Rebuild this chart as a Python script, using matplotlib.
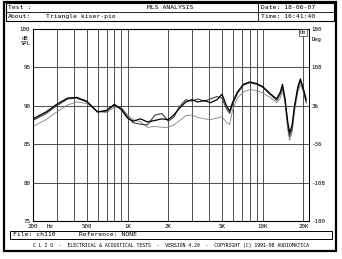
import matplotlib
matplotlib.use('Agg')
import matplotlib.pyplot as plt
from matplotlib.patches import Rectangle
from matplotlib.lines import Line2D

# ---------------- data ----------------
freq = [200, 250, 300, 360, 420, 500, 600, 700, 800, 900, 1000, 1100, 1250, 1400,
        1600, 1800, 2000, 2200, 2400, 2700, 3000, 3300, 3700, 4100, 4600, 5000,
        5400, 5700, 6000, 6500, 7200, 8000, 9000, 10000, 11500, 12700, 13500,
        14000, 14600, 15300, 15800, 16500, 17200, 18200, 19000, 19800, 21000]

curve_a = [88.3, 89.2, 90.2, 91.0, 91.1, 90.6, 89.2, 89.4, 90.2, 89.5, 88.4, 88.0,
           88.3, 87.9, 88.1, 88.3, 88.2, 88.8, 89.6, 90.5, 90.8, 90.5, 90.7, 90.4,
           90.8, 91.5, 90.0, 89.3, 90.5, 91.8, 92.8, 93.1, 92.9, 92.5, 91.5, 90.9,
           91.8, 92.8, 91.0, 88.0, 86.5, 87.5, 90.0, 92.5, 93.5, 92.5, 90.8]

curve_b = [88.1, 89.0, 90.0, 90.9, 91.0, 90.5, 89.2, 89.3, 90.1, 89.7, 88.6, 87.8,
           87.6, 87.5, 88.8, 89.0, 88.0, 88.5, 89.8, 90.8, 90.6, 90.9, 90.6, 90.9,
           91.2, 91.0, 89.6, 89.0, 90.2, 91.6, 92.7, 93.0, 92.8, 92.4, 91.4, 90.7,
           91.5, 92.5, 90.8, 87.5, 86.0, 87.0, 89.8, 92.2, 93.2, 92.3, 90.5]

curve_c = [87.3, 88.2, 89.2, 90.1, 90.5, 90.3, 89.3, 89.1, 89.8, 89.8, 88.8, 88.2,
           87.9, 87.2, 87.3, 87.2, 87.2, 87.5, 88.0, 88.7, 88.8, 88.5, 88.3, 88.2,
           88.4, 88.6, 87.8, 87.6, 89.5, 91.0, 91.8, 92.1, 92.0, 91.7, 91.0, 90.4,
           91.0, 92.0, 90.5, 87.0, 85.5, 86.5, 89.3, 91.8, 92.7, 92.0, 90.3]

x_major = [200, 500, 1000, 2000, 5000, 10000, 20000]
x_major_labels = ['200', '500', '1K', '2K', '5K', '10K', '20K']
x_minor = [300, 400, 600, 700, 800, 900, 3000, 4000, 6000, 7000, 8000, 9000]
y_ticks = [75, 80, 85, 90, 95, 100]
y_labels = ['75', '80', '85', '90', '95', '100']
phase_ticks = [-180, -108, -36, 36, 108, 180]
phase_labels = ['-180', '-108', '-36', '36', '108', '180']

# ---------------- figure ----------------
W, H = 342, 259
MONO = 'DejaVu Sans Mono'
fig = plt.figure(figsize=(W / 100, H / 100), dpi=100)
fig.patch.set_facecolor('white')


def fx(px):
    return px / W


def fy(py):
    return 1 - py / H


def rect(x0, y0, x1, y1, lw=0.8):
    fig.add_artist(Rectangle((fx(x0), fy(y1)), fx(x1) - fx(x0), fy(y0) - fy(y1),
                             transform=fig.transFigure, fill=False,
                             ec='black', lw=lw))


def hline(x0, x1, y, lw=0.8):
    fig.add_artist(Line2D([fx(x0), fx(x1)], [fy(y), fy(y)],
                          transform=fig.transFigure, color='black', lw=lw))


def vline(x, y0, y1, lw=0.8):
    fig.add_artist(Line2D([fx(x), fx(x)], [fy(y0), fy(y1)],
                          transform=fig.transFigure, color='black', lw=lw))


# outer frame
rect(4, 2, 336, 251, lw=1.6)
# header
rect(6, 3, 334, 21, lw=0.8)
hline(6, 334, 12, lw=0.6)
vline(258, 3, 21, lw=0.6)
fs = 4.6
fig.text(fx(8), fy(7.5), 'Test :', fontsize=fs, family=MONO, va='center')
fig.text(fx(170), fy(7.5), 'MLS ANALYSIS', fontsize=fs, family=MONO,
         va='center', ha='center')
fig.text(fx(261), fy(7.5), 'Date: 18-06-07', fontsize=fs, family=MONO, va='center')
fig.text(fx(8), fy(16.5), 'About:', fontsize=fs, family=MONO, va='center')
fig.text(fx(46), fy(16.5), 'Triangle kiser-pio', fontsize=fs, family=MONO,
         va='center')
fig.text(fx(261), fy(16.5), 'Time: 16:41:40', fontsize=fs, family=MONO, va='center')

# footer
rect(10, 231, 332, 239, lw=0.7)
fig.text(fx(13), fy(235), 'File: ch110      Reference: NONE', fontsize=fs,
         family=MONO, va='center')
fig.text(fx(171), fy(245.5),
         'C L I O  -  ELECTRICAL & ACOUSTICAL TESTS  -  VERSION 4.20  -  '
         'COPYRIGHT (C) 1991-98 AUDIOMATICA',
         fontsize=3.5, family=MONO, va='center', ha='center')

# ---------------- plot ----------------
ax = fig.add_axes([fx(33), fy(221), (309 - 33) / W, (221 - 29) / H])
ax.set_xscale('log')
ax.set_xlim(200, 22000)
ax.set_ylim(75, 100)

ax.set_xticks(x_major)
ax.set_xticklabels(x_major_labels)
ax.set_xticks(x_minor, minor=True)
ax.set_xticklabels([], minor=True)
ax.set_yticks(y_ticks)
ax.set_yticklabels(y_labels)

ax.grid(which='both', axis='x', color='#333333', lw=0.6)
ax.grid(which='major', axis='y', color='#333333', lw=0.6)
ax.tick_params(which='both', length=0, labelsize=4.2, pad=2)
for lab in ax.get_xticklabels() + ax.get_yticklabels():
    lab.set_family(MONO)
for sp in ax.spines.values():
    sp.set_linewidth(0.7)

ax.plot(freq, curve_c, color='#808080', lw=0.6, zorder=3)
ax.plot(freq, curve_b, color='#404040', lw=0.8, zorder=4)
ax.plot(freq, curve_a, color='#000000', lw=0.9, zorder=5)

ax2 = ax.twinx()
ax2.set_ylim(-180, 180)
ax2.set_yticks(phase_ticks)
ax2.set_yticklabels(phase_labels)
ax2.tick_params(length=0, labelsize=4.2, pad=2)
for lab in ax2.get_yticklabels():
    lab.set_family(MONO)
ax2.spines['right'].set_linestyle((0, (2, 1)))
ax2.spines['right'].set_linewidth(0.7)

fig.text(fx(47), fy(226.5), 'Hz', fontsize=4.2, family=MONO, va='center')
fig.text(fx(22), fy(38), 'dB', fontsize=4.0, family=MONO, va='center')
fig.text(fx(21), fy(43.5), 'SPL', fontsize=4.0, family=MONO, va='center')
fig.text(fx(312), fy(40), 'Deg', fontsize=4.0, family=MONO, va='center')
fig.text(fx(303), fy(32.5), 'On', fontsize=4.0, family=MONO, va='center',
         ha='center', bbox=dict(boxstyle='square,pad=0.15', fc='white',
                                ec='black', lw=0.4))

fig.savefig('out.png', dpi=100, facecolor='white')
